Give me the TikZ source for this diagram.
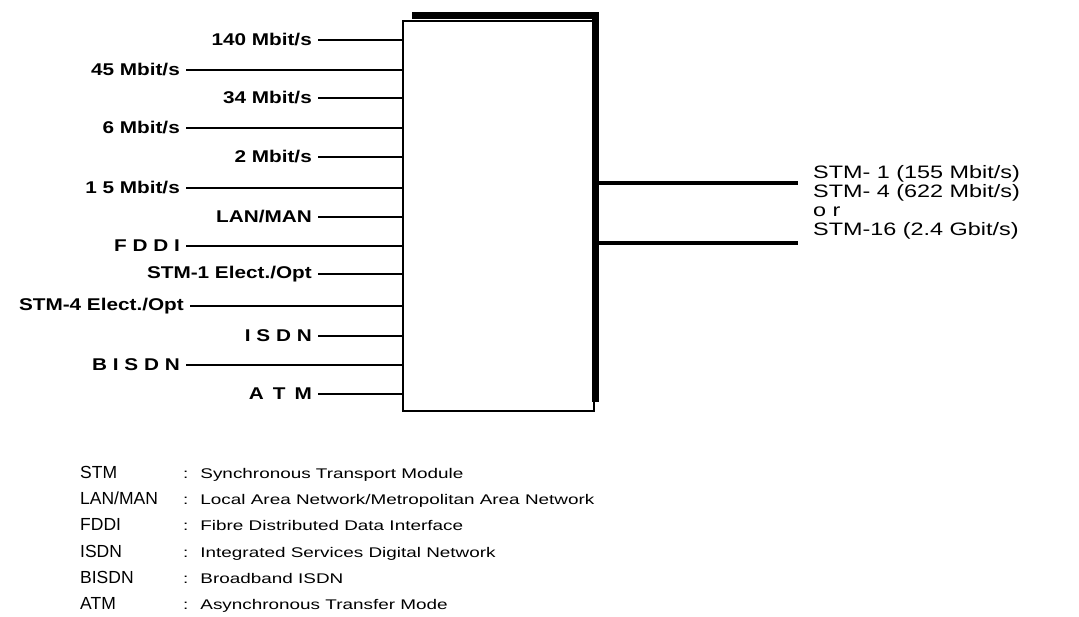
\documentclass[tikz,border=0pt]{standalone}
\usepackage{fontspec}
\newfontfamily\lblfont{Liberation Sans}[FakeStretch=1.22]
\newfontfamily\outfont{Liberation Sans}[FakeStretch=1.3]
\newfontfamily\keyfont{Liberation Sans}
\newfontfamily\descfont{Liberation Sans}[FakeStretch=1.35]
\usetikzlibrary{positioning,calc}

\begin{document}
\begin{tikzpicture}[
  x=1pt, y=-1pt,
  inlbl/.style={anchor=east, inner xsep=6pt, inner ysep=0pt, font=\lblfont\bfseries\fontsize{17}{20}\selectfont},
  feed/.style={line width=1.6pt},
  trunk/.style={line width=4pt},
  abbr/.style={anchor=base west, inner sep=0pt, font=\keyfont\fontsize{17.5}{19}\selectfont},
  desc/.style={anchor=base west, inner sep=0pt, font=\descfont\fontsize{14}{17}\selectfont}
]
\useasboundingbox (0,0) rectangle (1079,616);

% multiplexer box with heavy shadow
\node[draw, line width=1.8pt, anchor=north west, minimum width=191pt, minimum height=390pt, inner sep=0pt] (mux) at (402,20) {};
\draw[line width=7pt] ([xshift=10pt,yshift=5pt]mux.north west) -| ([xshift=1pt,yshift=10pt]mux.south east);

% tributary inputs
\node[inlbl] (in1)  at (318,40)  {140 Mbit/s};
\node[inlbl] (in2)  at (186,70)  {45 Mbit/s};
\node[inlbl] (in3)  at (318,98)  {34 Mbit/s};
\node[inlbl] (in4)  at (186,128) {6 Mbit/s};
\node[inlbl] (in5)  at (318,157) {2 Mbit/s};
\node[inlbl] (in6)  at (186,188) {1 5 Mbit/s};
\node[inlbl] (in7)  at (318,217) {LAN/MAN};
\node[inlbl] (in8)  at (186,246) {F D D I};
\node[inlbl] (in9)  at (318,274) {STM-1 Elect./Opt};
\node[inlbl] (in10) at (190,306) {STM-4 Elect./Opt};
\node[inlbl] (in11) at (318,336) {I S D N};
\node[inlbl] (in12) at (186,365) {B I S D N};
\node[inlbl] (in13) at (318,394) {A\hspace{9pt}T\hspace{9pt}M};

\draw[feed] (in1.east) -- (in1.east -| mux.west);
\draw[feed] (in2.east) -- (in2.east -| mux.west);
\draw[feed] (in3.east) -- (in3.east -| mux.west);
\draw[feed] (in4.east) -- (in4.east -| mux.west);
\draw[feed] (in5.east) -- (in5.east -| mux.west);
\draw[feed] (in6.east) -- (in6.east -| mux.west);
\draw[feed] (in7.east) -- (in7.east -| mux.west);
\draw[feed] (in8.east) -- (in8.east -| mux.west);
\draw[feed] (in9.east) -- (in9.east -| mux.west);
\draw[feed] (in10.east) -- (in10.east -| mux.west);
\draw[feed] (in11.east) -- (in11.east -| mux.west);
\draw[feed] (in12.east) -- (in12.east -| mux.west);
\draw[feed] (in13.east) -- (in13.east -| mux.west);

% aggregate outputs
\coordinate (out1) at (798,183);
\coordinate (out2) at (798,243);
\draw[trunk] ([xshift=1pt]mux.east |- out1) -- (out1);
\draw[trunk] ([xshift=1pt]mux.east |- out2) -- (out2);
\node[anchor=north west, inner sep=0pt, align=left, font=\outfont\fontsize{18}{19}\selectfont] (outlbl) at (813,165)
  {STM- 1 (155 Mbit/s)\\STM- 4 (622 Mbit/s)\\o r\\STM-16 (2.4 Gbit/s)};

% legend
\node[abbr] (kSTM) at (80,478) {STM};
\node[abbr] (kLAN) at (80,504) {LAN/MAN};
\node[abbr] (kFDD) at (80,530) {FDDI};
\node[abbr] (kISD) at (80,557) {ISDN};
\node[abbr] (kBIS) at (80,583) {BISDN};
\node[abbr] (kATM) at (80,609) {ATM};
\node[desc] (dSTM) at (183,478) {:\hspace{12pt}Synchronous Transport Module};
\node[desc] (dLAN) at (183,504) {:\hspace{12pt}Local Area Network/Metropolitan Area Network};
\node[desc] (dFDD) at (183,530) {:\hspace{12pt}Fibre Distributed Data Interface};
\node[desc] (dISD) at (183,557) {:\hspace{12pt}Integrated Services Digital Network};
\node[desc] (dBIS) at (183,583) {:\hspace{12pt}Broadband ISDN};
\node[desc] (dATM) at (183,609) {:\hspace{12pt}Asynchronous Transfer Mode};
\end{tikzpicture}
\end{document}
